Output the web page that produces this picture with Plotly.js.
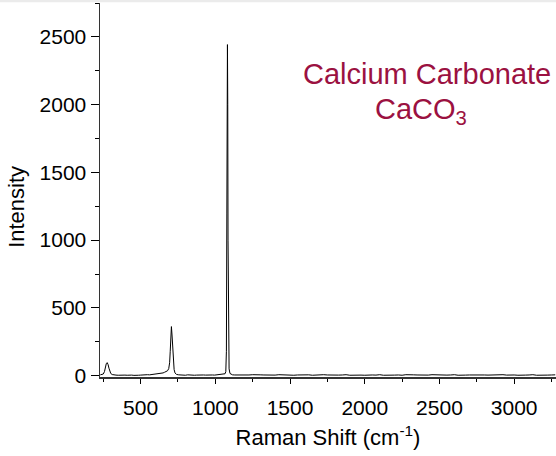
<!DOCTYPE html>
<html>
<head>
<meta charset="utf-8">
<script src="https://cdn.plot.ly/plotly-3.0.1.min.js"></script>
<style>html,body{margin:0;padding:0;background:#fff;}#chart{width:556px;height:456px;}</style>
</head>
<body>
<div id="chart"></div>
<script>
// Raman shift (cm^-1)
const ramanShift = [
  230,240,250,258,264,270,276,282,288,294,300,310,320,335,350,365,380,395,410,425,
  440,455,470,485,500,515,530,545,560,575,590,605,620,635,650,660,670,680,688,694,
  698,702,706,710,714,718,724,730,740,755,770,785,800,815,830,845,860,875,890,905,
  920,935,950,965,980,995,1010,1025,1040,1055,1065,1070,1074,1077,1079,1081,1083,1085,1088,1092,
  1098,1105,1115,1130,1150,1175,1200,1225,1250,1275,1300,1325,1350,1375,1400,1425,1450,1475,1500,1525,
  1550,1575,1600,1625,1650,1675,1700,1725,1750,1775,1800,1825,1850,1875,1900,1925,1950,1975,2000,2025,
  2050,2075,2100,2125,2150,2175,2200,2225,2250,2275,2300,2325,2350,2375,2400,2425,2450,2475,2500,2525,
  2550,2575,2600,2625,2650,2675,2700,2725,2750,2775,2800,2825,2850,2875,2900,2925,2950,2975,3000,3025,
  3050,3075,3100,3125,3150,3175,3200,3225,3250,3275
];
// Intensity (counts)
const intensity = [
  6,8,12,30,62,88,96,82,55,30,16,8,5,4,3,5,2,4,3,5,
  4,2,5,3,4,6,5,7,6,8,9,11,13,16,20,25,30,36,52,95,
  180,300,362,300,190,100,45,20,9,6,4,5,3,6,4,5,3,4,6,3,
  5,4,6,3,5,4,6,5,7,9,14,30,180,1200,2100,2443,2000,1000,240,50,
  16,9,6,5,4,6,3,5,7,4,6,5,3,6,4,7,5,4,6,3,
  5,7,4,6,3,5,4,7,5,3,6,4,5,7,3,5,6,4,3,6,
  5,4,7,3,5,6,4,5,3,7,4,6,5,3,6,4,7,5,3,6,
  4,5,7,3,6,4,5,6,3,7,5,4,6,3,5,7,4,6,5,3,
  6,4,5,7,3,5,6,4,5,6
];
const chartLabel = 'Calcium Carbonate';
const chartFormula = 'CaCO<sub>3</sub>';

const fontFam = '"Liberation Sans", Arial, Helvetica, sans-serif';
const maroon = 'rgb(155,17,65)';

const trace = {
  x: ramanShift,
  y: intensity,
  type: 'scatter',
  mode: 'lines',
  line: {color: '#000', width: 1},
  hoverinfo: 'x+y'
};

const layout = {
  width: 556,
  height: 456,
  margin: {l: 100, r: 0, t: 3, b: 79},
  paper_bgcolor: '#fff',
  plot_bgcolor: '#fff',
  showlegend: false,
  font: {family: fontFam, color: '#000'},
  xaxis: {
    range: [228, 3280],
    tick0: 0, dtick: 500,
    ticks: 'outside', ticklen: 5, tickwidth: 1, tickcolor: '#000',
    ticklabelstandoff: 6,
    minor: {dtick: 250, tick0: 0, ticks: 'outside', ticklen: 3, tickwidth: 1, tickcolor: '#000', showgrid: false},
    showline: true, linecolor: '#333', linewidth: 1.5,
    showgrid: false, zeroline: false,
    tickfont: {size: 21, family: fontFam, color: '#000'},
    title: {text: 'Raman Shift (cm<sup>-1</sup>)', font: {size: 22, family: fontFam, color: '#000'}, standoff: 12}
  },
  yaxis: {
    range: [-10, 2750],
    tick0: 0, dtick: 500,
    ticks: 'outside', ticklen: 8, tickwidth: 1, tickcolor: '#000',
    minor: {dtick: 250, tick0: 0, ticks: 'outside', ticklen: 4, tickwidth: 1, tickcolor: '#000', showgrid: false},
    showline: true, linecolor: '#333', linewidth: 1.5,
    showgrid: false, zeroline: false,
    tickfont: {size: 21, family: fontFam, color: '#000'}
  },
  annotations: [
    {
      text: 'Intensity', xref: 'paper', yref: 'paper',
      x: -0.182, y: 0.455, textangle: -90, showarrow: false,
      xanchor: 'center', yanchor: 'middle',
      font: {size: 22, family: fontFam, color: '#000'}
    },
    {
      text: chartLabel, xref: 'paper', yref: 'paper',
      x: 0.717, y: 0.81, showarrow: false,
      xanchor: 'center', yanchor: 'middle',
      font: {size: 29, family: fontFam, color: maroon}
    },
    {
      text: chartFormula, xref: 'paper', yref: 'paper',
      x: 0.704, y: 0.711, showarrow: false,
      xanchor: 'center', yanchor: 'middle',
      font: {size: 29, family: fontFam, color: maroon}
    }
  ],
  shapes: [
    {type: 'rect', xref: 'paper', yref: 'paper', x0: -0.3, x1: 1.1, y0: 1.002, y1: 1.02,
     fillcolor: '#ebebeb', line: {width: 0}, layer: 'above'}
  ]
};

Plotly.newPlot('chart', [trace], layout, {displayModeBar: false, staticPlot: true});
</script>
</body>
</html>
